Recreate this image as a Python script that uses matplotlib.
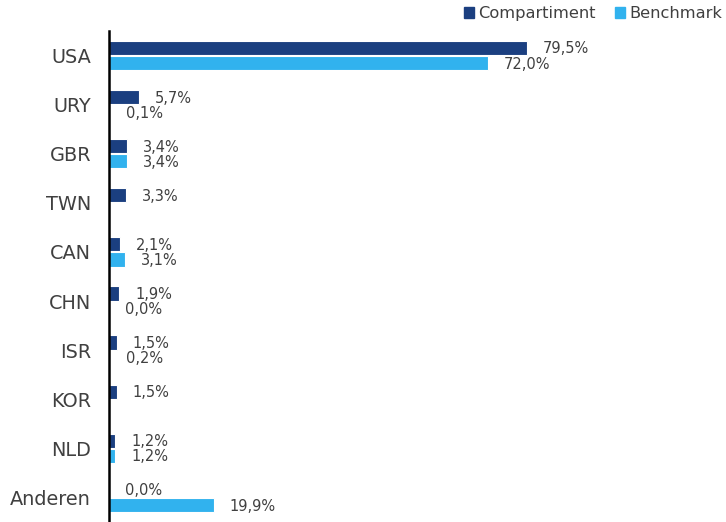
import matplotlib
matplotlib.use("Agg")
import matplotlib.pyplot as plt
from matplotlib.patches import Patch
import numpy as np

categories = ["USA", "URY", "GBR", "TWN", "CAN", "CHN", "ISR", "KOR", "NLD", "Anderen"]
compartiment = [79.5, 5.7, 3.4, 3.3, 2.1, 1.9, 1.5, 1.5, 1.2, 0.0]
benchmark = [72.0, 0.1, 3.4, None, 3.1, 0.0, 0.2, None, 1.2, 19.9]
series_names = ["Compartiment", "Benchmark"]

dark = "#1B3F80"
light = "#31B2EE"
txt = "#404040"

plt.rcParams['font.family'] = ['DejaVu Sans']

fig = plt.figure(figsize=(7.26, 5.22), dpi=100)
ax = fig.add_axes([109/726, 0.0, 1 - 109/726, (522-31)/522])

y = np.arange(len(categories))
h = 0.29
off = 0.155
px_per_unit = 617 / 117.3
lab_off = 16 / px_per_unit

for i, v in enumerate(compartiment):
    ax.barh(y[i] - off, v, height=h, color=dark, edgecolor="white", linewidth=0.8)
    ax.text(v + lab_off, y[i] - off + 0.02, f"{v:.1f}".replace(".", ",") + "%",
            va="center", ha="left", fontsize=10.5, color=txt)
for i, v in enumerate(benchmark):
    if v is None:
        continue
    ax.barh(y[i] + off, v, height=h, color=light, edgecolor="white", linewidth=0.8)
    ax.text(v + lab_off, y[i] + off + 0.02, f"{v:.1f}".replace(".", ",") + "%",
            va="center", ha="left", fontsize=10.5, color=txt)

ax.set_xlim(0, 117.3)
ax.set_ylim(len(categories) - 0.5, -0.5)
ax.set_yticks(y)
ax.set_yticklabels(categories, fontsize=13.9, color=txt)
ax.tick_params(axis="y", length=0, pad=13)
ax.set_xticks([])
for s in ["top", "right", "bottom"]:
    ax.spines[s].set_visible(False)
ax.spines["left"].set_color("black")
ax.spines["left"].set_linewidth(1.8)

handles = [Patch(color=dark, label=series_names[0]), Patch(color=light, label=series_names[1])]
leg = fig.legend(handles=handles, loc="upper right", bbox_to_anchor=(1.0146, 1.016), ncol=2,
                 frameon=False, fontsize=11.7, handlelength=0.6, handleheight=0.6,
                 handletextpad=0.25, columnspacing=1.2, labelcolor=txt)

fig.savefig("out.png", dpi=100)
